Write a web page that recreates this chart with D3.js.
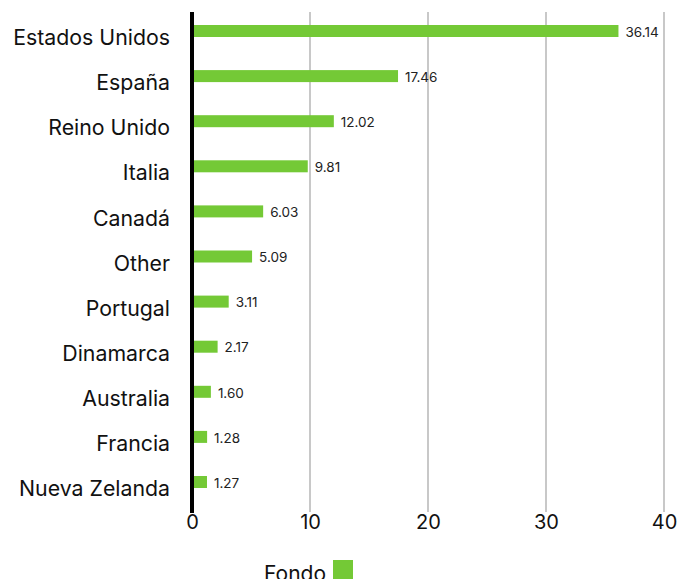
<!DOCTYPE html>
<html>
<head>
<meta charset="utf-8">
<script src="https://cdn.jsdelivr.net/npm/d3@7"></script>
<style>
  body { margin: 0; background: #fff; }
  text { font-family: Inter, "Noto Sans", sans-serif; }
</style>
</head>
<body>
<script>
// Data
const categories = ["Estados Unidos", "España", "Reino Unido", "Italia", "Canadá", "Other",
  "Portugal", "Dinamarca", "Australia", "Francia", "Nueva Zelanda"];
const values = [36.14, 17.46, 12.02, 9.81, 6.03, 5.09, 3.11, 2.17, 1.60, 1.28, 1.27];
const xTicks = [0, 10, 20, 30, 40];
const seriesName = "Fondo";

const width = 678, height = 579;
const green = "#74c936";

const svg = d3.select("body").append("svg")
    .attr("width", width)
    .attr("height", height);

// Scales
const x = d3.scaleLinear().domain([0, 40]).range([192, 664]);
const y = d3.scalePoint().domain(categories).range([31, 482]);
const barH = 12;

// Gridlines
svg.append("g")
  .selectAll("line")
  .data(xTicks.filter(d => d > 0))
  .enter().append("line")
    .attr("x1", d => x(d))
    .attr("x2", d => x(d))
    .attr("y1", 12)
    .attr("y2", 512)
    .attr("stroke", "#c8c8c8")
    .attr("stroke-width", 2);

// Bars
svg.append("g")
  .selectAll("rect")
  .data(values)
  .enter().append("rect")
    .attr("x", x(0))
    .attr("y", (d, i) => y(categories[i]) - barH / 2)
    .attr("width", d => x(d) - x(0))
    .attr("height", barH)
    .attr("fill", green);

// Value labels
svg.append("g")
  .selectAll("text")
  .data(values)
  .enter().append("text")
    .attr("x", d => x(d) + 7)
    .attr("y", (d, i) => y(categories[i]) + 1)
    .attr("dy", "0.35em")
    .style("font-size", "13.5px")
    .attr("fill", "#222")
    .text(d => d.toFixed(2));

// Category labels (y axis)
const yAxis = d3.axisLeft(y).tickSize(0).tickPadding(22);
const yg = svg.append("g")
    .attr("transform", `translate(${x(0)},6)`)
    .call(yAxis);
yg.select(".domain").remove();
yg.selectAll("text")
    .attr("dy", "0.36em")
    .style("font-family", "Inter, 'Noto Sans', sans-serif")
    .style("font-size", "21.3px")
    .attr("fill", "#111");

// X axis labels
const xAxis = d3.axisBottom(x).tickValues(xTicks).tickSize(0).tickPadding(0);
const xg = svg.append("g")
    .attr("transform", "translate(0,513)")
    .call(xAxis);
xg.select(".domain").remove();
xg.selectAll("text")
    .attr("dy", "0.71em")
    .attr("y", 2)
    .style("font-family", "Inter, 'Noto Sans', sans-serif")
    .style("font-size", "20px")
    .attr("fill", "#111");

// Zero axis line
svg.append("line")
    .attr("x1", x(0))
    .attr("x2", x(0))
    .attr("y1", 12)
    .attr("y2", 513)
    .attr("stroke", "#000")
    .attr("stroke-width", 4);

// Legend
const legend = svg.append("g");
legend.append("text")
    .attr("x", 326)
    .attr("y", 581)
    .attr("text-anchor", "end")
    .style("font-size", "21px")
    .attr("fill", "#111")
    .text(seriesName);
legend.append("rect")
    .attr("x", 333)
    .attr("y", 560)
    .attr("width", 20)
    .attr("height", 20)
    .attr("fill", green);
</script>
</body>
</html>
